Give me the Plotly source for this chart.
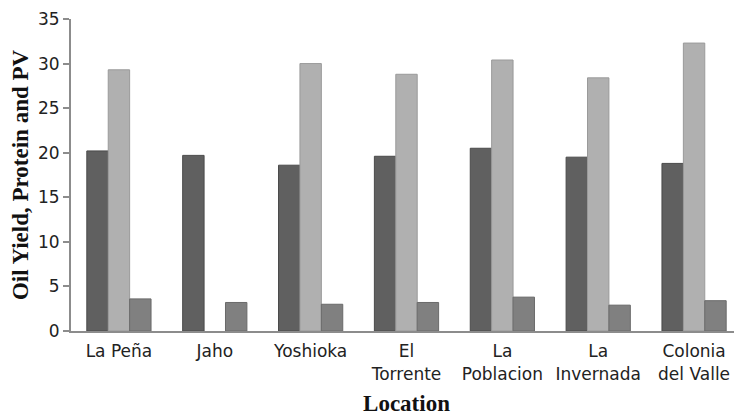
import plotly.graph_objects as go

# Data
locations = ["La Peña", "Jaho", "Yoshioka", "El<br>Torrente", "La<br>Poblacion",
             "La<br>Invernada", "Colonia<br>del Valle"]
oil_yield = [20.2, 19.7, 18.6, 19.6, 20.5, 19.5, 18.8]
protein = [29.3, None, 30.0, 28.8, 30.4, 28.4, 32.3]
pv = [3.6, 3.2, 3.0, 3.2, 3.8, 2.9, 3.4]

y_ticks = [0, 5, 10, 15, 20, 25, 30, 35]

fig = go.Figure()
fig.add_trace(go.Bar(x=locations, y=oil_yield, name="Oil Yield",
                     marker=dict(color="#606060", line=dict(color="#4a4a4a", width=1))))
fig.add_trace(go.Bar(x=locations, y=protein, name="Protein",
                     marker=dict(color="#b0b0b0", line=dict(color="#9a9a9a", width=1))))
fig.add_trace(go.Bar(x=locations, y=pv, name="PV",
                     marker=dict(color="#808080", line=dict(color="#6a6a6a", width=1))))

# page body has an 8px margin, so the figure is sized to fit inside the window
fig.update_layout(
    width=734, height=408,
    margin=dict(l=63, r=0, t=11, b=85),
    plot_bgcolor="white", paper_bgcolor="white",
    barmode="group", bargap=0.33, bargroupgap=0,
    showlegend=False,
    font=dict(family="DejaVu Sans", size=17, color="#222"),
)
fig.update_xaxes(
    automargin=False,
    showline=True, linecolor="#8c8c8c", linewidth=2,
    ticks="", showgrid=False, ticklabelstandoff=4,
    tickfont=dict(family="DejaVu Sans", size=17, color="#222"),
    title=dict(text="<b>Location</b>", standoff=14,
               font=dict(family="Liberation Serif", size=23, color="#111")),
)
fig.update_yaxes(
    automargin=False,
    range=[0, 35], tickvals=y_ticks, ticklabeloverflow="allow",
    showline=True, linecolor="#8c8c8c", linewidth=2,
    ticks="outside", ticklen=6, tickcolor="#8c8c8c", tickwidth=2,
    showgrid=False, zeroline=False,
    tickfont=dict(family="DejaVu Sans", size=17, color="#222"),
    title=dict(text="<b>Oil Yield, Protein and PV</b>", standoff=22,
               font=dict(family="Liberation Serif", size=23, color="#111")),
)

fig.write_html("out.html")
